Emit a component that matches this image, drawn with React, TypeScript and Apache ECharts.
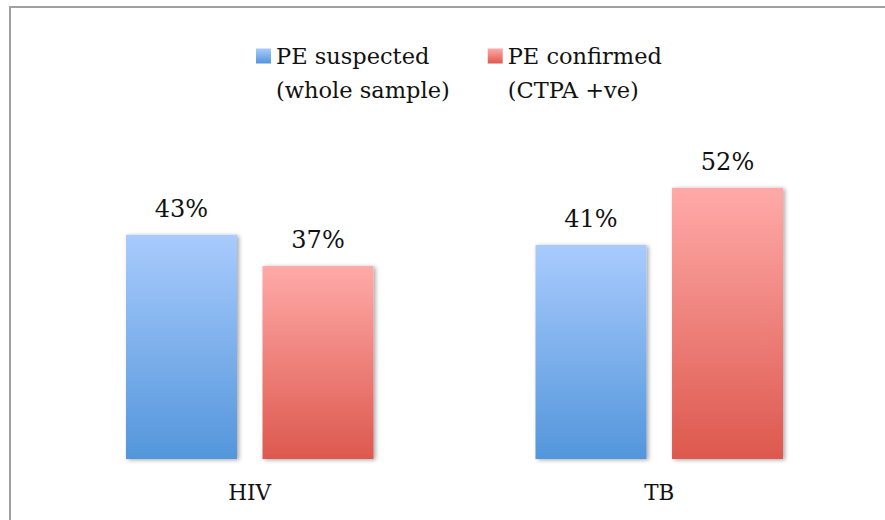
import React, { useEffect, useRef } from "react";
import * as echarts from "echarts";

const categories = ["HIV", "TB"];
const seriesNames = ["PE suspected\n(whole sample)", "PE confirmed\n(CTPA +ve)"];
const suspected = [43, 41];
const confirmed = [37, 52];

const FONT = "DejaVu Serif";

function grad(top: string, bottom: string) {
  return new echarts.graphic.LinearGradient(0, 0, 0, 1, [
    { offset: 0, color: top },
    { offset: 1, color: bottom },
  ]);
}

export default function App() {
  const ref = useRef<HTMLDivElement>(null);
  useEffect(() => {
    if (!ref.current) return;
    const chart = echarts.init(ref.current, undefined, { renderer: "svg" });
    const blue = grad("#a9cbfd", "#5396db");
    const red = grad("#ffaaa8", "#dd584e");
    const shadow = {
      shadowColor: "rgba(0,0,0,0.35)",
      shadowBlur: 4,
      shadowOffsetX: 2,
      shadowOffsetY: 1,
    };
    const label = {
      show: true,
      position: "top",
      distance: 14,
      formatter: "{c}%",
      fontFamily: FONT,
      fontSize: 24,
      color: "#111",
    };
    chart.setOption({
      animation: false,
      backgroundColor: "#ffffff",
      graphic: [
        {
          type: "rect",
          shape: { x: 10, y: 7, width: 1000, height: 800 },
          style: { fill: "none", stroke: "#a0a0a0", lineWidth: 2 },
          silent: true,
        },
      ],
      legend: {
        left: 256,
        top: 5,
        padding: 0,
        itemWidth: 15,
        itemHeight: 15,
        itemGap: 38,
        icon: "rect",
        data: seriesNames,
        formatter: (name: string) => "\n" + name,
        textStyle: {
          fontFamily: FONT,
          fontSize: 22.5,
          color: "#111",
          lineHeight: 34,
        },
      },
      grid: { left: 45, right: 21, top: 146, bottom: 61 },
      xAxis: {
        type: "category",
        data: categories,
        axisLine: {
          lineStyle: {
            color: "#9a9a9a",
            width: 2,
            shadowColor: "rgba(0,0,0,0.25)",
            shadowBlur: 2,
            shadowOffsetY: 1,
          },
        },
        axisTick: { show: false },
        axisLabel: {
          fontFamily: FONT,
          fontSize: 21.5,
          color: "#111",
          margin: 22,
        },
      },
      yAxis: {
        type: "value",
        min: 0,
        max: 60,
        show: false,
        splitLine: { show: false },
      },
      series: [
        {
          name: seriesNames[0],
          type: "bar",
          data: suspected,
          barWidth: 111,
          barGap: "23%",
          itemStyle: { color: blue, ...shadow },
          label,
        },
        {
          name: seriesNames[1],
          type: "bar",
          data: confirmed,
          barWidth: 111,
          barGap: "23%",
          itemStyle: { color: red, ...shadow },
          label,
        },
      ],
    });
    return () => chart.dispose();
  }, []);
  return (
    <div
      ref={ref}
      style={{ position: "fixed", left: 0, top: 0, width: 885, height: 520 }}
    />
  );
}
